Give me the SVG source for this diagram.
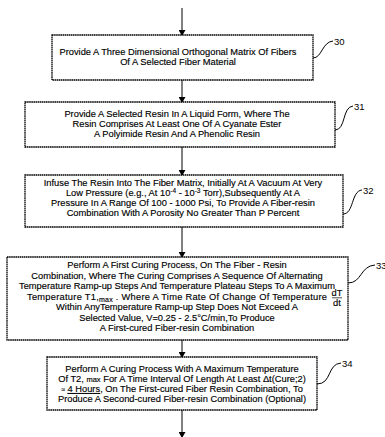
<svg xmlns="http://www.w3.org/2000/svg" width="385" height="437" viewBox="0 0 385 437">
<defs>
<marker id="ah" markerWidth="6" markerHeight="7" refX="5" refY="3.5" orient="auto" markerUnits="userSpaceOnUse">
<path d="M0,0 L6,3.5 L0,7 z" fill="#000"/>
</marker>
<style>
.box{fill:#fff;stroke:#000;stroke-width:1.3;stroke-dasharray:1.6 0.5}
.t{font-family:"Liberation Sans",Arial,sans-serif;font-size:9.3px;fill:#000;text-anchor:middle;stroke:#000;stroke-width:0.15}
.lbl{font-family:"Liberation Sans",Arial,sans-serif;font-size:9.5px;fill:#000}
.c{fill:none;stroke:#000;stroke-width:1}
.ld{fill:none;stroke:#000;stroke-width:1}
</style>
</defs>
<rect width="385" height="437" fill="#fff"/>
<g id="connectors">
<line class="c" x1="182" y1="8" x2="182" y2="35" marker-end="url(#ah)"/>
<line class="c" x1="182" y1="80" x2="182" y2="102" marker-end="url(#ah)"/>
<line class="c" x1="182" y1="147" x2="182" y2="175" marker-end="url(#ah)"/>
<line class="c" x1="182" y1="227" x2="182" y2="257" marker-end="url(#ah)"/>
<line class="c" x1="182" y1="340" x2="182" y2="357" marker-end="url(#ah)"/>
<line class="c" x1="182" y1="410" x2="182" y2="437" marker-end="url(#ah)"/>
</g>
<g id="node30">
<rect class="box" x="52" y="35" width="261" height="45"/>
<text class="t" x="178" y="55">Provide A Three Dimensional Orthogonal Matrix Of Fibers</text>
<text class="t" x="178" y="65">Of A Selected Fiber Material</text>
<path class="ld" d="M313,58 C322,58 322,42 333,41"/>
<text class="lbl" x="334" y="45">30</text>
</g>
<g id="node31">
<rect class="box" x="25" y="102" width="310" height="45"/>
<text class="t" x="177" y="117">Provide A Selected Resin In A Liquid Form, Where The</text>
<text class="t" x="177" y="127">Resin Comprises At Least One Of A Cyanate Ester</text>
<text class="t" x="177" y="137">A Polyimide Resin And A Phenolic Resin</text>
<path class="ld" d="M335,130 C346,130 342,107 353,106"/>
<text class="lbl" x="354" y="110">31</text>
</g>
<g id="node32">
<rect class="box" x="25" y="175" width="318" height="52"/>
<text class="t" x="183" y="186">Infuse The Resin Into The Fiber Matrix, Initially At A Vacuum At Very</text>
<text class="t" x="183" y="196">Low Pressure (e.g., At 10<tspan dy="-3" font-size="6.5">-4</tspan><tspan dy="3"> - 10</tspan><tspan dy="-3" font-size="6.5">-3</tspan><tspan dy="3"> Torr),Subsequently At A</tspan></text>
<text class="t" x="183" y="206">Pressure In A Range Of 100 - 1000 Psi, To Provide A Fiber-resin</text>
<text class="t" x="183" y="216">Combination With A Porosity No Greater Than P Percent</text>
<path class="ld" d="M343,214 C354,214 351,191 362,190"/>
<text class="lbl" x="363" y="194">32</text>
</g>
<g id="node33">
<rect class="box" x="7" y="257" width="341" height="83"/>
<text class="t" x="177" y="268">Perform A First Curing Process, On The Fiber - Resin</text>
<text class="t" x="177" y="278.5">Combination, Where The Curing Comprises A Sequence Of Alternating</text>
<text class="t" x="177" y="289">Temperature Ramp-up Steps And Temperature Plateau Steps To A Maximum</text>
<text class="t" x="177" y="299.5" textLength="300">Temperature T1,<tspan dy="2" font-size="7">max</tspan><tspan dy="-2"> . Where A Time Rate Of Change Of Temperature</tspan></text>
<text class="t" x="337" y="296" font-size="6px">dT</text>
<line x1="332" y1="297.8" x2="342" y2="297.8" stroke="#000" stroke-width="0.7"/>
<text class="t" x="337" y="305.5" font-size="6px">dt</text>
<text class="t" x="177" y="310">Within AnyTemperature Ramp-up Step Does Not Exceed A</text>
<text class="t" x="177" y="320.5">Selected Value, V=0.25 - 2.5°C/min,To Produce</text>
<text class="t" x="177" y="331">A First-cured Fiber-resin Combination</text>
<path class="ld" d="M348,283 C362,283 360,266 375,265"/>
<text class="lbl" x="376" y="269">33</text>
</g>
<g id="node34">
<rect class="box" x="47" y="357" width="270" height="53"/>
<text class="t" x="182" y="372">Perform A Curing Process With A Maximum Temperature</text>
<text class="t" x="182" y="382">Of T2, <tspan font-size="7.5">max</tspan> For A Time Interval Of Length At Least Δt(Cure;2)</text>
<text class="t" x="182" y="392"><tspan font-size="7">≈</tspan> <tspan text-decoration="underline">4 Hours</tspan>, On The First-cured Fiber Resin Combination, To</text>
<text class="t" x="182" y="402">Produce A Second-cured Fiber-resin Combination (Optional)</text>
<path class="ld" d="M317,384 C332,384 327,364 341,363"/>
<text class="lbl" x="342" y="367">34</text>
</g>
</svg>
